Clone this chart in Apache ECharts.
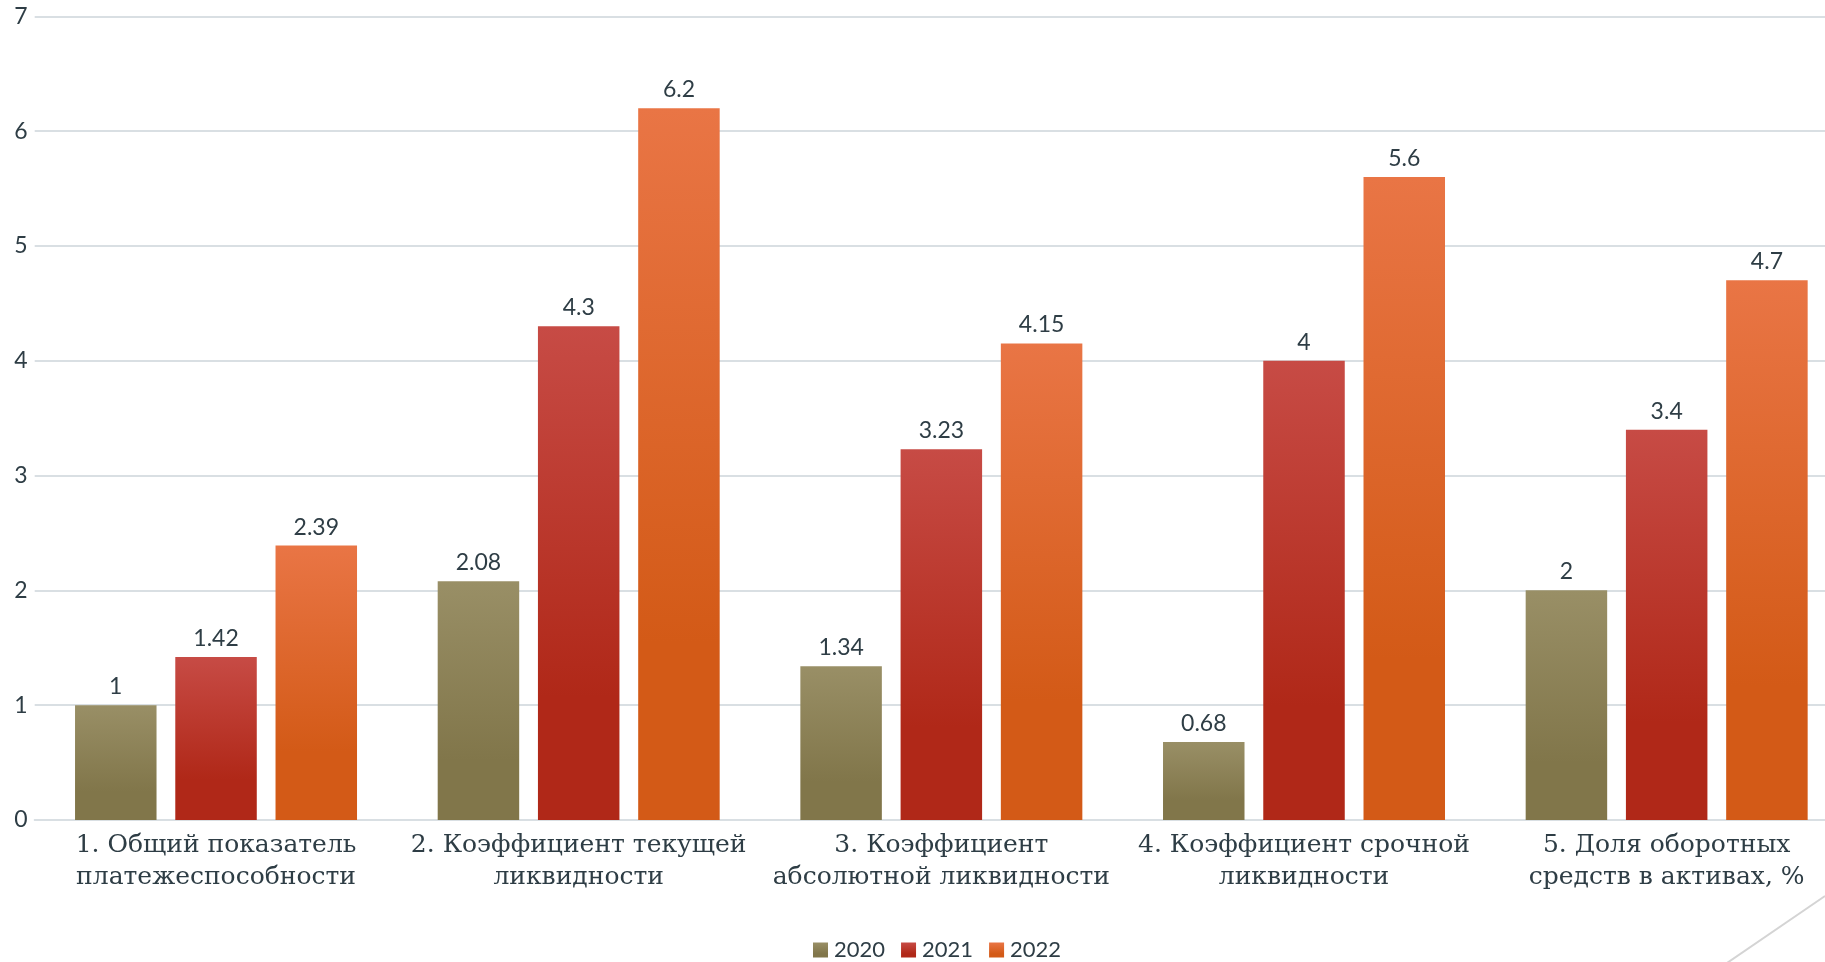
<!DOCTYPE html>
<html>
<head>
<meta charset="utf-8">
<script src="https://cdn.jsdelivr.net/npm/echarts@6/dist/echarts.min.js"></script>
<style>
html,body{margin:0;padding:0;background:#fff;overflow:hidden;width:1825px;height:962px;}
#chart{width:1848px;height:962px;}
</style>
</head>
<body>
<div id="chart"></div>
<script>
const categories = [
  '1. Общий показатель\nплатежеспособности',
  '2. Коэффициент текущей\nликвидности',
  '3. Коэффициент\nабсолютной ликвидности',
  '4. Коэффициент срочной\nликвидности',
  '5. Доля оборотных\nсредств в активах, %'
];
const seriesNames = ['2020', '2021', '2022'];
const values2020 = [1, 2.08, 1.34, 0.68, 2];
const values2021 = [1.42, 4.3, 3.23, 4, 3.4];
const values2022 = [2.39, 6.2, 4.15, 5.6, 4.7];
const yTicks = [0, 1, 2, 3, 4, 5, 6, 7];

const grad = (top, bottom) => new echarts.graphic.LinearGradient(0, 0, 0, 1, [
  {offset: 0, color: top}, {offset: 0.75, color: bottom}, {offset: 1, color: bottom}
]);
const colors = [grad('#998f66', '#81764a'), grad('#c74b45', '#b02818'), grad('#e97545', '#d35a17')];
const textColor = '#2e3d45';

const chart = echarts.init(document.getElementById('chart'), null, {renderer: 'canvas'});
const mk = (name, data, i) => ({
  name, type: 'bar', data,
  barWidth: 81.5, barGap: '23%',
  itemStyle: {color: colors[i]},
  label: {show: true, position: 'top', distance: 7, color: textColor,
    fontFamily: 'Lato', fontSize: 23}
});
chart.setOption({
  animation: false,
  grid: {left: 34.7, right: 0, top: 16.3, bottom: 142, containLabel: false},
  legend: {
    data: seriesNames, left: 808, top: 934,
    itemWidth: 15, itemHeight: 15, itemGap: 16, icon: 'rect',
    textStyle: {color: textColor, fontFamily: 'Lato', fontSize: 22, padding: [0, 0, 0, 1]}
  },
  xAxis: {
    type: 'category', data: categories,
    axisLine: {show: true, lineStyle: {color: '#d9dfe3', width: 2}},
    axisTick: {show: false},
    axisLabel: {color: textColor, fontFamily: 'DejaVu Serif', fontSize: 25,
      lineHeight: 32, margin: 9, interval: 0}
  },
  yAxis: {
    type: 'value', min: yTicks[0], max: yTicks[yTicks.length - 1], interval: 1,
    axisLine: {show: false}, axisTick: {show: false},
    splitLine: {lineStyle: {color: '#d9dfe3', width: 2}},
    axisLabel: {color: textColor, fontFamily: 'Lato', fontSize: 23, margin: 7}
  },
  graphic: [{
    type: 'line', shape: {x1: 1825, y1: 896, x2: 1727, y2: 963},
    style: {stroke: '#d4d4d4', lineWidth: 2}, silent: true
  }],
  series: [mk(seriesNames[0], values2020, 0), mk(seriesNames[1], values2021, 1), mk(seriesNames[2], values2022, 2)]
});
</script>
</body>
</html>
